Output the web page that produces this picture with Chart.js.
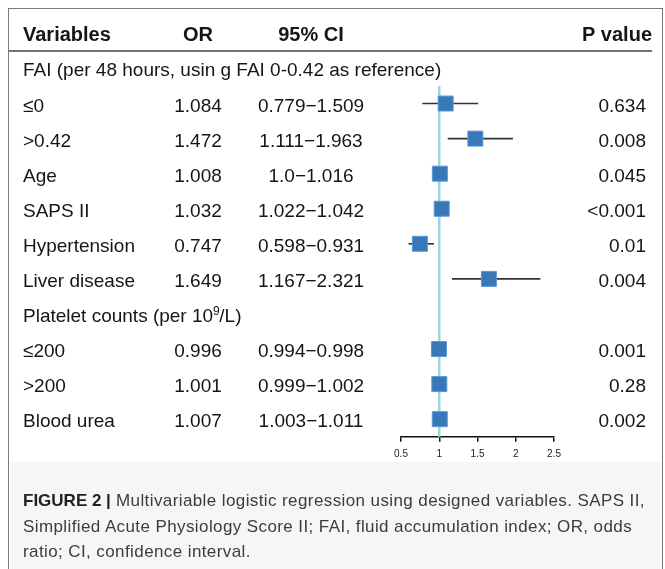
<!DOCTYPE html>
<html>
<head>
<meta charset="utf-8">
<script src="https://cdn.jsdelivr.net/npm/chart.js@4.4.1/dist/chart.umd.min.js"></script>
<style>
html, body { margin: 0; padding: 0; background: #fff; }
body { width: 665px; height: 569px; position: relative; overflow: hidden; font-family: "Liberation Sans", Arial, sans-serif; }
#frame { position: absolute; left: 8px; top: 8px; width: 655px; height: 620px; border: 1.5px solid #7a7a7a; box-sizing: border-box; }
#capbg { position: absolute; left: 9.5px; top: 462px; width: 652px; height: 120px; background: #f6f6f6; }
#chart { position: absolute; left: 0; top: 0; }
#caption { position: absolute; left: 23px; top: 488px; font-size: 17px; letter-spacing: 0.4px; line-height: 25.5px; color: #3c3c3c; white-space: nowrap; }
#caption b { color: #222; letter-spacing: 0; }
</style>
</head>
<body>
<div id="frame"></div>
<div id="capbg"></div>
<canvas id="chart" width="665" height="569"></canvas>
<div id="caption"><b>FIGURE 2 |</b> Multivariable logistic regression using designed variables. SAPS II,<br>Simplified Acute Physiology Score II; FAI, fluid accumulation index; OR, odds<br>ratio; CI, confidence interval.</div>
<script>
// rows of the table (row 0 = header, 1 = FAI group, 8 = platelet group)
var variables = ['\u22640', '>0.42', 'Age', 'SAPS II', 'Hypertension', 'Liver disease', '\u2264200', '>200', 'Blood urea'];
var rowIndex = [2, 3, 4, 5, 6, 7, 9, 10, 11];
var oddsRatio = [1.084, 1.472, 1.008, 1.032, 0.747, 1.649, 0.996, 1.001, 1.007];
var lower = [0.779, 1.111, 1.0, 1.022, 0.598, 1.167, 0.994, 0.999, 1.003];
var upper = [1.509, 1.963, 1.016, 1.042, 0.931, 2.321, 0.998, 1.002, 1.011];
var ciLabels = ['0.779\u22121.509', '1.111\u22121.963', '1.0\u22121.016', '1.022\u22121.042', '0.598\u22120.931',
                '1.167\u22122.321', '0.994\u22120.998', '0.999\u22121.002', '1.003\u22121.011'];
var pValues = ['0.634', '0.008', '0.045', '<0.001', '0.01', '0.004', '0.001', '0.28', '0.002'];
var headers = ['Variables', 'OR', '95% CI', 'P value'];
var groupRows = [1, 8];
var groupLabels = ['FAI (per 48 hours, usin g FAI 0-0.42 as reference)', 'Platelet counts (per 10^9/L)'];
var tickValues = [0.5, 1, 1.5, 2, 2.5];
var tickLabels = ['0.5', '1', '1.5', '2', '2.5'];

var FONT = '"Liberation Sans", Arial, sans-serif';
var colVar = 23, colOR = 198, colCI = 311, colP = 646;

var tablePlugin = {
    id: 'table',
    afterDraw: function (chart) {
        var ctx = chart.ctx;
        var ys = chart.scales.y;
        ctx.save();
        ctx.fillStyle = '#151515';
        ctx.textBaseline = 'alphabetic';

        // header
        var hy = ys.getPixelForValue(0) + 7.5;
        ctx.font = 'bold 20px ' + FONT;
        ctx.textAlign = 'left';
        ctx.fillText(headers[0], colVar, hy);
        ctx.textAlign = 'center';
        ctx.fillText(headers[1], colOR, hy);
        ctx.fillText(headers[2], colCI, hy);
        ctx.textAlign = 'right';
        ctx.fillText(headers[3], 652, hy);

        // rule under header
        ctx.strokeStyle = '#444';
        ctx.lineWidth = 1.5;
        ctx.beginPath();
        var ly = ys.getPixelForValue(0.5);
        ctx.moveTo(9, ly);
        ctx.lineTo(652, ly);
        ctx.stroke();

        ctx.font = '19px ' + FONT;
        // group rows
        groupLabels.forEach(function (t, i) {
            var gy = ys.getPixelForValue(groupRows[i]) + 8;
            ctx.textAlign = 'left';
            var parts = t.split('^');
            if (parts.length === 1) {
                ctx.fillText(t, colVar, gy);
            } else {
                ctx.fillText(parts[0], colVar, gy);
                var x = colVar + ctx.measureText(parts[0]).width;
                ctx.font = '12px ' + FONT;
                ctx.fillText(parts[1].charAt(0), x, gy - 7);
                x += ctx.measureText(parts[1].charAt(0)).width - 0.5;
                ctx.font = '19px ' + FONT;
                ctx.fillText(parts[1].slice(1), x, gy);
            }
        });

        // variable rows
        variables.forEach(function (v, i) {
            var ry = ys.getPixelForValue(rowIndex[i]) + 8;
            ctx.textAlign = 'left';
            ctx.fillText(v, colVar, ry);
            ctx.textAlign = 'center';
            ctx.fillText(oddsRatio[i].toFixed(3), colOR, ry);
            ctx.fillText(ciLabels[i], colCI, ry);
            ctx.textAlign = 'right';
            ctx.fillText(pValues[i], colP, ry);
        });
        ctx.restore();
    }
};

var datasets = [];
datasets.push({
    label: 'OR',
    data: oddsRatio.map(function (v, i) { return { x: v, y: rowIndex[i] }; }),
    showLine: false,
    pointStyle: 'rect',
    pointRadius: 10.6,
    backgroundColor: '#3878b8',
    borderColor: '#5c98d2',
    borderWidth: 1,
    order: 0,
    clip: false
});
datasets.push({
    label: 'ref',
    data: [{ x: 1, y: 1.5 }, { x: 1, y: 11.5 }],
    showLine: true,
    pointRadius: 0,
    borderColor: '#9ed6de',
    borderWidth: 2.5,
    order: 1,
    clip: false
});
variables.forEach(function (v, i) {
    datasets.push({
        label: v,
        data: [{ x: lower[i], y: rowIndex[i] }, { x: upper[i], y: rowIndex[i] }],
        showLine: true,
        pointRadius: 0,
        borderColor: '#333',
        borderWidth: 1.6,
        order: 2,
        clip: false
    });
});

new Chart(document.getElementById('chart'), {
    type: 'scatter',
    data: { datasets: datasets },
    plugins: [tablePlugin],
    options: {
        responsive: false,
        animation: false,
        layout: { padding: { left: 401, right: 111, top: 86, bottom: 102.3 } },
        plugins: {
            legend: { display: false },
            tooltip: { enabled: false }
        },
        scales: {
            x: {
                type: 'linear',
                min: 0.5,
                max: 2.5,
                afterBuildTicks: function (s) { s.ticks = tickValues.map(function (v) { return { value: v }; }); },
                afterFit: function (s) { s.height = 30; },
                grid: { drawOnChartArea: false, drawTicks: true, tickLength: 5, color: '#111', lineWidth: 1.5 },
                border: { display: true, color: '#111', width: 1.5 },
                ticks: {
                    font: { size: 10, family: FONT },
                    color: '#222',
                    padding: 7,
                    autoSkip: false,
                    maxRotation: 0,
                    callback: function (value, index) { return tickLabels[index]; }
                }
            },
            y: {
                type: 'linear',
                display: false,
                reverse: true,
                min: 1.5,
                max: 11.5
            }
        }
    }
});
</script>
</body>
</html>
